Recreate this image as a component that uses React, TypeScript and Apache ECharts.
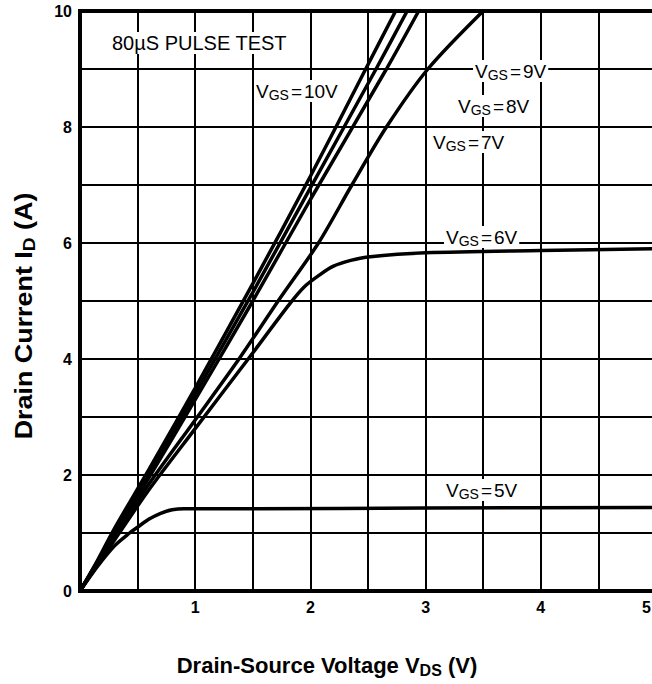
import React, { useEffect, useRef } from "react";
import * as echarts from "echarts";

// Output characteristics: drain current vs drain-source voltage, one curve per gate voltage
const vgs10: [number, number][] = [[0, 0], [0.15, 0.52], [0.3, 1.08], [0.6, 2.1], [1.0, 3.5], [1.5, 5.3], [2.0, 7.15], [2.48, 9.0], [2.74, 10]];
const vgs9: [number, number][] = [[0, 0], [0.15, 0.5], [0.3, 1.02], [0.6, 2.02], [1.0, 3.4], [1.5, 5.15], [2.0, 6.95], [2.57, 9.0], [2.84, 10]];
const vgs8: [number, number][] = [[0, 0], [0.15, 0.49], [0.3, 0.98], [0.6, 1.96], [1.0, 3.3], [1.5, 5.0], [2.0, 6.75], [2.66, 9.0], [2.94, 10]];
const vgs7: [number, number][] = [[0, 0], [0.15, 0.47], [0.3, 0.93], [0.6, 1.85], [1.0, 2.95], [1.38, 4.0], [1.72, 5.0], [2.07, 6.0], [2.36, 7.0], [2.66, 8.0], [3.02, 9.0], [3.5, 10]];
const vgs6: [number, number][] = [[0, 0], [0.15, 0.45], [0.3, 0.88], [0.6, 1.75], [1.0, 2.8], [1.46, 4.0], [1.82, 4.95], [1.95, 5.25], [2.08, 5.45], [2.2, 5.6], [2.35, 5.7], [2.5, 5.76], [3.0, 5.83], [4.0, 5.87], [5.0, 5.9]];
const vgs5: [number, number][] = [[0, 0], [0.15, 0.42], [0.3, 0.78], [0.43, 1.0], [0.5, 1.1], [0.6, 1.24], [0.7, 1.34], [0.8, 1.4], [0.9, 1.42], [1.5, 1.42], [3.0, 1.43], [5.0, 1.44]];

const curves = [vgs10, vgs9, vgs8, vgs7, vgs6, vgs5];
const curveNames = ["VGS=10V", "VGS=9V", "VGS=8V", "VGS=7V", "VGS=6V", "VGS=5V"];

const xTickLabels = ["1", "2", "3", "4", "5"];
const yTickLabels = ["0", "2", "4", "6", "8", "10"];

const FONT = "'Liberation Sans', Arial, Helvetica, sans-serif";

const vgsRich = {
  v: { fontSize: 19, fontFamily: FONT, color: "#000", lineHeight: 22, verticalAlign: "middle" },
  s: { fontSize: 14, fontFamily: FONT, color: "#000", lineHeight: 22, verticalAlign: "bottom" },
  e: { fontSize: 19, fontFamily: FONT, color: "#000", lineHeight: 22, verticalAlign: "middle", padding: [0, 2, 0, 2] },
};

function vgsLabel(value: string, x: number, y: number) {
  return {
    type: "text",
    x,
    y,
    z: 100,
    style: {
      text: `{v|V}{s|GS}{e|=}{v|${value}V}`,
      rich: vgsRich,
      align: "left",
      verticalAlign: "middle",
      backgroundColor: "#fff",
      padding: [0, 2, 0, 2],
    },
  };
}

const titleRich = {
  t: { fontSize: 22, fontWeight: "bold", fontFamily: FONT, color: "#000", lineHeight: 26, verticalAlign: "middle" },
  d: { fontSize: 16, fontWeight: "bold", fontFamily: FONT, color: "#000", lineHeight: 22, verticalAlign: "bottom" },
};

const tickFont = { fontSize: 16, fontWeight: "bold", fontFamily: FONT, color: "#000" };

export default function App() {
  const ref = useRef<HTMLDivElement>(null);

  useEffect(() => {
    if (!ref.current) return;
    const chart = echarts.init(ref.current, undefined, { renderer: "svg" });

    const lastX = xTickLabels[xTickLabels.length - 1];

    const option = {
      animation: false,
      backgroundColor: "#fff",
      grid: {
        left: 80,
        top: 11,
        width: 576,
        height: 580,
        containLabel: false,
        outerBoundsMode: "none",
        show: true,
        borderColor: "#000",
        borderWidth: 4,
        backgroundColor: "transparent",
      },
      xAxis: {
        type: "value",
        min: 0,
        max: 5,
        interval: 0.5,
        axisLine: { show: false },
        axisTick: { show: false },
        splitLine: { show: true, lineStyle: { color: "#000", width: 2 } },
        axisLabel: {
          margin: 8,
          ...tickFont,
          showMaxLabel: true,
          alignMaxLabel: "right",
          hideOverlap: false,
          formatter: (v: number) => {
            const s = String(v);
            if (!xTickLabels.includes(s)) return "";
            // the last label sits against the right edge of the page
            return s === lastX ? `{edge|${s}}` : s;
          },
          rich: {
            edge: { ...tickFont, padding: [0, 5, 0, 0] },
          },
        },
      },
      yAxis: {
        type: "value",
        min: 0,
        max: 10,
        interval: 1,
        axisLine: { show: false },
        axisTick: { show: false },
        splitLine: { show: true, lineStyle: { color: "#000", width: 2 } },
        axisLabel: {
          margin: 8,
          ...tickFont,
          formatter: (v: number) => {
            const s = String(v);
            return yTickLabels.includes(s) ? s : "";
          },
        },
      },
      series: curves.map((data, i) => ({
        type: "line",
        name: curveNames[i],
        data,
        smooth: 0.3,
        showSymbol: false,
        symbol: "none",
        clip: true,
        lineStyle: { color: "#000", width: 3.5 },
        z: 10,
      })),
      graphic: [
        {
          type: "text",
          x: 110,
          y: 43,
          z: 100,
          style: {
            text: "80µS PULSE TEST",
            fontSize: 20,
            fontFamily: FONT,
            fill: "#000",
            align: "left",
            verticalAlign: "middle",
            backgroundColor: "#fff",
            padding: [1, 2, 1, 2],
          },
        },
        vgsLabel("10", 254, 91),
        vgsLabel("9", 473, 71),
        vgsLabel("8", 456, 106),
        vgsLabel("7", 431, 142),
        vgsLabel("6", 444, 237),
        vgsLabel("5", 444, 490),
        {
          type: "text",
          x: 24,
          y: 316,
          rotation: Math.PI / 2,
          scaleX: 1.12,
          z: 100,
          style: {
            text: "{t|Drain Current I}{d|D}{t| (A)}",
            align: "center",
            verticalAlign: "middle",
            rich: {
              t: { ...titleRich.t, fontSize: 24, lineHeight: 28 },
              d: { ...titleRich.d, fontSize: 17, lineHeight: 24 },
            },
          },
        },
        {
          type: "text",
          x: 327,
          y: 665,
          z: 100,
          style: {
            text: "{t|Drain-Source Voltage V}{d|DS}{t| (V)}",
            align: "center",
            verticalAlign: "middle",
            rich: titleRich,
          },
        },
      ],
    };

    chart.setOption(option as any);
    return () => chart.dispose();
  }, []);

  return (
    <div
      ref={ref}
      style={{ position: "absolute", left: 0, top: 0, width: 652, height: 684, background: "#fff" }}
    />
  );
}
